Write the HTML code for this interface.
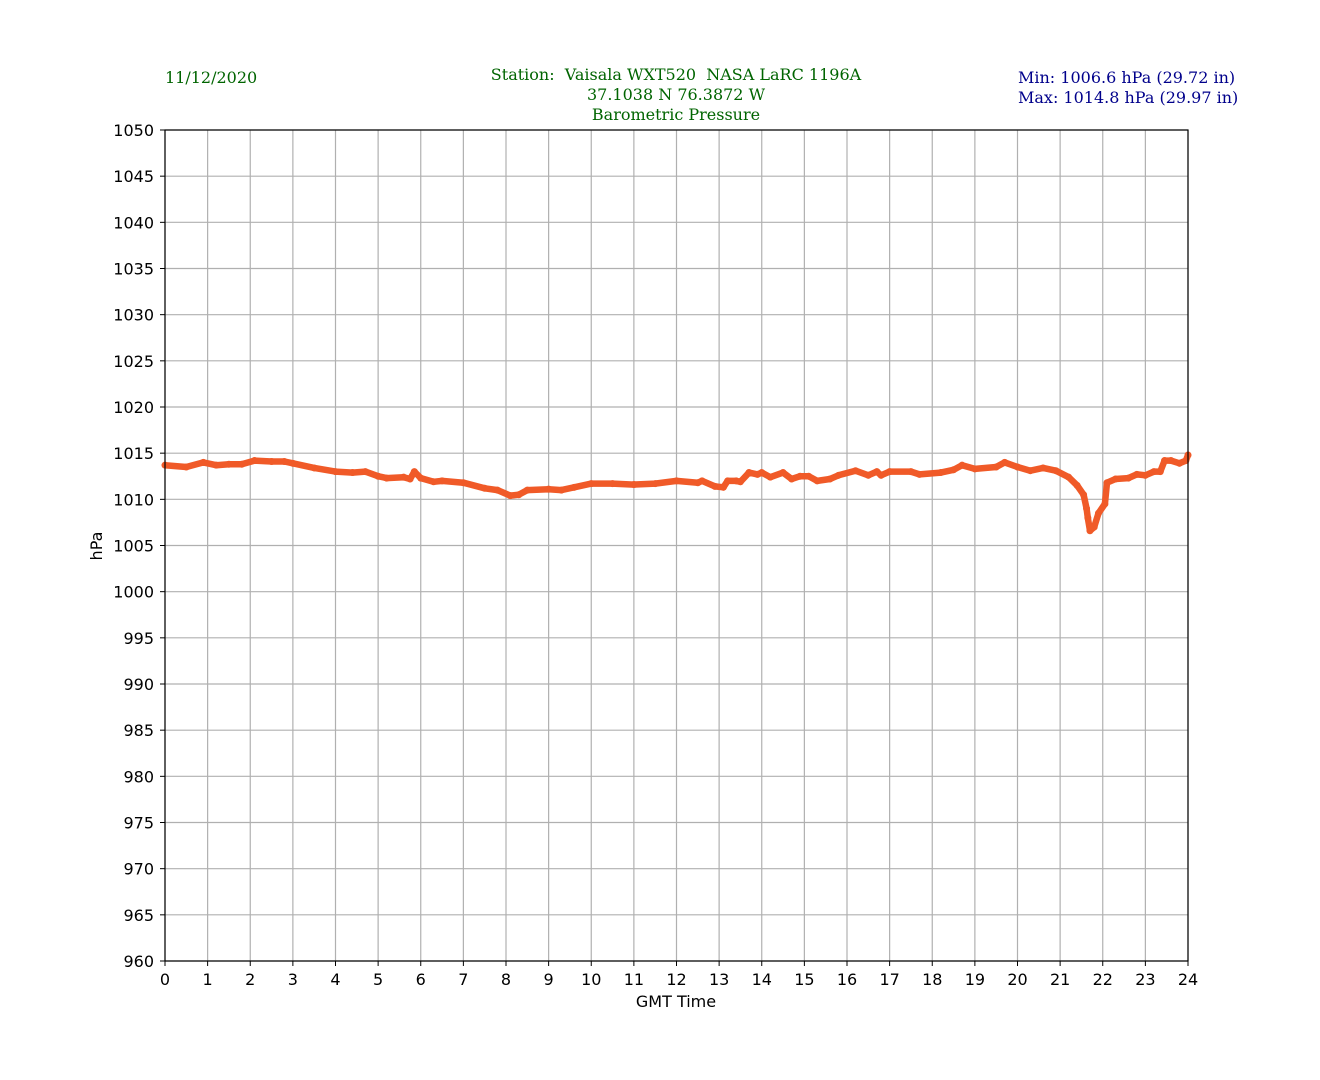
<!DOCTYPE html>
<html><head><meta charset="utf-8"><style>
body{margin:0;background:#fff;}
svg{display:block;}
.t{font-family:"DejaVu Sans","Liberation Sans",sans-serif;font-size:16px;fill:#000;}
.h{font-family:"DejaVu Serif","Liberation Serif",serif;font-size:16px;white-space:pre;}
</style></head><body>
<svg id="c" width="1320" height="1080" xmlns="http://www.w3.org/2000/svg" xml:space="preserve">
<text class="h" x="165" y="83" fill="#006400">11/12/2020</text>
<text class="h" x="676" y="80" fill="#006400" text-anchor="middle">Station:  Vaisala WXT520  NASA LaRC 1196A</text>
<text class="h" x="676" y="100" fill="#006400" text-anchor="middle">37.1038 N 76.3872 W</text>
<text class="h" x="676" y="120" fill="#006400" text-anchor="middle">Barometric Pressure</text>
<text class="h" x="1018" y="83" fill="#00008b">Min: 1006.6 hPa (29.72 in)</text>
<text class="h" x="1018" y="103" fill="#00008b">Max: 1014.8 hPa (29.97 in)</text>
<g id="grid"></g>
<g id="series"></g>
<rect x="165" y="130" width="1023" height="831" fill="none" stroke="#000" stroke-width="1.2"/>
<g id="ticks"></g>
<text class="t" x="676" y="1007" text-anchor="middle">GMT Time</text>
<text class="t" transform="translate(102,546) rotate(-90)" text-anchor="middle">hPa</text>
</svg>
<script>
const hours=[0,0.5,0.9,1.2,1.5,1.8,2.1,2.5,2.8,3.0,3.5,4.0,4.4,4.7,5.0,5.2,5.6,5.75,5.85,6.0,6.3,6.5,7.0,7.5,7.8,8.1,8.3,8.5,9.0,9.3,9.6,10.0,10.5,11.0,11.5,12.0,12.5,12.6,12.9,13.1,13.2,13.4,13.5,13.7,13.9,14.0,14.2,14.5,14.7,14.9,15.1,15.3,15.6,15.8,16.2,16.5,16.7,16.8,17.0,17.5,17.7,18.2,18.5,18.7,19.0,19.5,19.7,20.0,20.3,20.6,20.9,21.2,21.4,21.55,21.62,21.65,21.7,21.8,21.9,22.05,22.1,22.3,22.6,22.8,23.0,23.2,23.35,23.45,23.6,23.8,23.95,24];
const pressure=[1013.7,1013.5,1014.0,1013.7,1013.8,1013.8,1014.2,1014.1,1014.1,1013.9,1013.4,1013.0,1012.9,1013.0,1012.5,1012.3,1012.4,1012.2,1013.0,1012.3,1011.9,1012.0,1011.8,1011.2,1011.0,1010.4,1010.5,1011.0,1011.1,1011.0,1011.3,1011.7,1011.7,1011.6,1011.7,1012.0,1011.8,1012.0,1011.4,1011.3,1012.0,1012.0,1011.9,1012.9,1012.7,1012.9,1012.4,1012.9,1012.2,1012.5,1012.5,1012.0,1012.2,1012.6,1013.1,1012.6,1013.0,1012.6,1013.0,1013.0,1012.7,1012.9,1013.2,1013.7,1013.3,1013.5,1014.0,1013.5,1013.1,1013.4,1013.1,1012.4,1011.5,1010.5,1009.0,1008.0,1006.6,1007.0,1008.5,1009.5,1011.8,1012.2,1012.3,1012.7,1012.6,1013.0,1013.0,1014.2,1014.2,1013.9,1014.2,1014.8];
const xTicks=[0,1,2,3,4,5,6,7,8,9,10,11,12,13,14,15,16,17,18,19,20,21,22,23,24];
const yTicks=[960,965,970,975,980,985,990,995,1000,1005,1010,1015,1020,1025,1030,1035,1040,1045,1050];
const NS='http://www.w3.org/2000/svg';
const X0=165,X1=1188,Y0=961,Y1=130;
function sx(h){return X0+(h-0)/24*(X1-X0);}
function sy(v){return Y0-(v-960)/90*(Y0-Y1);}
function mk(t,a,p){const e=document.createElementNS(NS,t);for(const k in a)e.setAttribute(k,a[k]);p.appendChild(e);return e;}
const grid=document.getElementById('grid'),ticks=document.getElementById('ticks'),ser=document.getElementById('series');
xTicks.forEach(h=>{
 const x=sx(h);
 const g=mk('line',{x1:x,x2:x,y1:Y1,y2:Y0,stroke:'#b0b0b0','stroke-width':1.2},grid);
 
 
 const tk=mk('line',{x1:x,x2:x,y1:Y0,y2:Y0+5,stroke:'#000'},ticks);
 
 
 const t=mk('text',{x:x,y:Y0+24,'text-anchor':'middle',class:'t'},ticks);
 t.textContent=h;
 
 
});
yTicks.forEach(v=>{
 const y=sy(v);
 const g=mk('line',{x1:X0,x2:X1,y1:y,y2:y,stroke:'#b0b0b0','stroke-width':1.2},grid);
 
 
 const tk=mk('line',{x1:X0-5,x2:X0,y1:y,y2:y,stroke:'#000'},ticks);
 
 
 const t=mk('text',{x:X0-11,y:y+6,'text-anchor':'end',class:'t'},ticks);
 t.textContent=v;
 
 
});
const pts=hours.map((h,i)=>sx(h).toFixed(1)+','+sy(pressure[i]).toFixed(1)).join(' ');
const pl=mk('polyline',{points:pts,fill:'none',stroke:'#f05a28','stroke-width':6.5,'stroke-linejoin':'round','stroke-linecap':'round'},ser);


hours.forEach((h,i)=>{
 const c=mk('circle',{cx:sx(h),cy:sy(pressure[i]),r:3.5,fill:'#f05a28'},ser);
 
 
});
</script>
</body></html>
